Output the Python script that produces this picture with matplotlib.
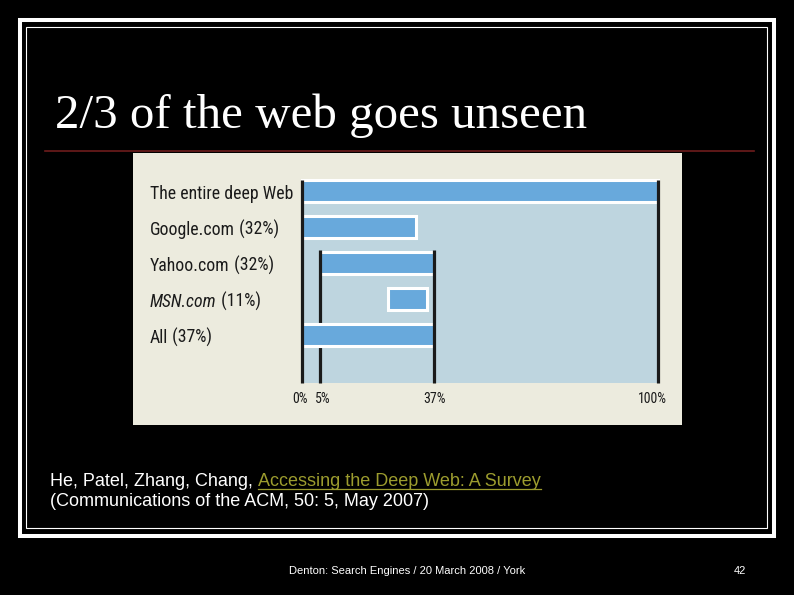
"""
Slide: 2/3 of the web goes unseen -- deep web coverage bar chart.
"""

import matplotlib
matplotlib.use('Agg')
import matplotlib.pyplot as plt
import matplotlib.transforms as mtransforms
from matplotlib.patches import Rectangle
from matplotlib.lines import Line2D
from matplotlib.font_manager import fontManager

W, H = 794, 595

# data
categories = ['The entire deep Web', 'Google.com', 'Yahoo.com', 'MSN.com', 'All']
percents = [None, '(32%)', '(32%)', '(11%)', '(37%)']
italic = [False, False, False, True, False]
bar_start = [0, 0, 5, 24, 0]
bar_width = [100, 32, 32, 11, 37]
tick_values = [0, 5, 37, 100]
tick_labels = ['0%', '5%', '37%', '100%']
title = '2/3 of the web goes unseen'
cite_plain = 'He, Patel, Zhang, Chang, '
cite_link = 'Accessing the Deep Web: A Survey'
cite_line2 = '(Communications of the ACM, 50: 5, May 2007)'
footer = 'Denton: Search Engines / 20 March 2008 / York'
page = '42'

installed = {f.name for f in fontManager.ttflist}
NARROW = 'Liberation Sans'
for cand in ['Liberation Sans Narrow', 'Roboto Condensed', 'Open Sans Condensed',
             'Noto Sans Condensed', 'DejaVu Sans Condensed', 'Lato']:
    if cand in installed:
        NARROW = cand
        break
SANS = 'Liberation Sans'
SERIF = 'Liberation Serif'

CHART_BG = '#ecebde'
PLOT_BG = '#bed5df'
BAR = '#68a9dc'
INK = '#1a1a1a'


def fx(px):
    return px / W


def fy(py):
    return 1 - py / H


fig = plt.figure(figsize=(W / 100, H / 100), dpi=100)
fig.patch.set_facecolor('black')
fig.canvas.draw()
r = fig.canvas.get_renderer()


def fit_size(text, family, target_px, size_max, **kw):
    t = fig.text(0, 0, text, family=family, fontsize=10, **kw)
    w = t.get_window_extent(r).width
    t.remove()
    return min(size_max, 10 * target_px / w)


label_size = fit_size(categories[0], NARROW, 142, 14)
tick_size = fit_size(tick_labels[-1], NARROW, 30, 10)

# slide borders
fig.add_artist(Rectangle((fx(20), fy(535.5)), fx(754), 535.5 / H - 20 / H,
                         transform=fig.transFigure, fill=False, ec='white', lw=2.9))
fig.add_artist(Rectangle((fx(26.5), fy(527.5)), fx(740.5), 527.5 / H - 26.5 / H,
                         transform=fig.transFigure, fill=False, ec='white', lw=0.8))

# title + rule
fig.text(fx(55), fy(128.5), title, family=SERIF, fontsize=35.3, color='white', va='baseline')
fig.add_artist(Line2D([fx(45), fx(754)], [fy(150.7), fy(150.7)],
                      transform=fig.transFigure, color='#6e1c1c', lw=1.2))

# chart background (the pasted figure)
bg = fig.add_axes([fx(133), fy(425), fx(682 - 133), (425 - 153) / H])
bg.set_facecolor(CHART_BG)
bg.set_xticks([])
bg.set_yticks([])
for s in bg.spines.values():
    s.set_visible(False)

# plot area
top_px, bot_px = 180, 383.3
ax = fig.add_axes([fx(302.3), fy(bot_px), fx(657.7 - 302.3), (bot_px - top_px) / H])
ax.set_facecolor(PLOT_BG)
for s in ax.spines.values():
    s.set_visible(False)
row_px = 36.0
y_top = -(191 - top_px) / row_px
y_bot = y_top + (bot_px - top_px) / row_px
ax.set_xlim(0, 100)
ax.set_ylim(y_bot, y_top)

bar_h = 0.625
edge_rows = 1.5 / row_px
for i in range(len(categories)):
    z = 3 if categories[i] == 'All' else 2
    ax.barh(i, bar_width[i], left=bar_start[i], height=bar_h, color=BAR,
            ec='white', lw=2.2, zorder=z, clip_on=False)

# guide lines
yahoo_top = 2 - bar_h / 2 - edge_rows
ax.vlines(5, yahoo_top, y_bot, color=INK, lw=2.3, zorder=2.5, clip_on=False)
ax.vlines(37, yahoo_top, y_bot, color=INK, lw=2.3, zorder=4, clip_on=False)
ax.vlines([0, 100], y_top, y_bot, color=INK, lw=2.3, zorder=4, clip_on=False)

ax.set_yticks([])
ax.set_xticks(tick_values)
ax.set_xticklabels(tick_labels, family=NARROW, fontsize=tick_size, color=INK)
ax.tick_params(axis='x', length=0, pad=6)
# nudges as in the original artwork
for lab, dx in zip(ax.get_xticklabels(), [-2.5, 3, 0.5, -5]):
    lab.set_transform(lab.get_transform() +
                      mtransforms.ScaledTranslation(dx / 100, 0, fig.dpi_scale_trans))

# category labels
cap_shift = -0.36 * label_size - 1
for i, name in enumerate(categories):
    t = ax.annotate(name, xy=(fx(150), i), xycoords=('figure fraction', 'data'),
                    xytext=(0, cap_shift), textcoords='offset points', va='baseline',
                    family=NARROW, fontsize=label_size, color=INK,
                    fontstyle='italic' if italic[i] else 'normal')
    if percents[i]:
        ax.annotate(' ' + percents[i], xy=(1, 0), xycoords=t, va='bottom',
                    family=NARROW, fontsize=label_size, color=INK)

# citation
c1 = fig.text(fx(50), fy(486.5), cite_plain, family=SANS, fontsize=13, color='white', va='baseline')
link = fig.text(0, 0, cite_link, family=SANS, fontsize=13, color='#9c9c2e', va='baseline')
fig.text(fx(50), fy(505.5), cite_line2, family=SANS, fontsize=13, color='white', va='baseline')

fig.canvas.draw()
b1 = c1.get_window_extent(r)
link.set_position((b1.x1 / W, fy(486.5)))
fig.canvas.draw()
bl = link.get_window_extent(r)
fig.add_artist(Line2D([bl.x0 / W, bl.x1 / W], [fy(489), fy(489)],
                      transform=fig.transFigure, color='#9c9c2e', lw=0.9))

# footer
fig.text(fx(407), fy(571), footer, family=SANS, fontsize=8, color='white', ha='center', va='center')
fig.text(fx(740), fy(571), page, family=SANS, fontsize=8, color='white', ha='center', va='center')

fig.savefig('out.png', dpi=100, facecolor='black')
